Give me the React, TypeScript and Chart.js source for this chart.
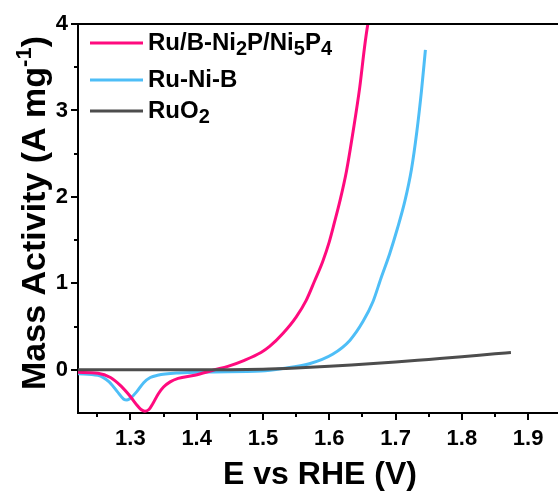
import React, { useEffect, useRef } from 'react';
import { Chart, registerables } from 'chart.js';

Chart.register(...registerables);

// ---- data ----
const ruBX = [1.221, 1.251, 1.27, 1.286, 1.30, 1.31, 1.316, 1.322, 1.328, 1.334, 1.342, 1.35, 1.36, 1.372, 1.397, 1.427, 1.447, 1.472, 1.497, 1.51, 1.53, 1.55, 1.565, 1.578, 1.59, 1.60, 1.608, 1.616, 1.626, 1.636, 1.646, 1.653, 1.658, 1.662];
const ruBY = [-0.03, -0.04, -0.09, -0.19, -0.31, -0.41, -0.46, -0.48, -0.46, -0.39, -0.28, -0.2, -0.14, -0.1, -0.064, 0, 0.04, 0.11, 0.2, 0.27, 0.42, 0.61, 0.8, 1.03, 1.25, 1.48, 1.71, 1.95, 2.3, 2.76, 3.27, 3.72, 3.99, 4.15];

const ruNiBX = [1.221, 1.251, 1.268, 1.28, 1.29, 1.295, 1.30, 1.31, 1.32, 1.33, 1.341, 1.372, 1.421, 1.497, 1.53, 1.57, 1.605, 1.631, 1.651, 1.666, 1.678, 1.691, 1.703, 1.714, 1.724, 1.732, 1.739, 1.745];
const ruNiBY = [-0.045, -0.064, -0.14, -0.25, -0.34, -0.35, -0.33, -0.25, -0.15, -0.09, -0.064, -0.037, -0.025, -0.015, 0.014, 0.07, 0.18, 0.34, 0.56, 0.79, 1.06, 1.34, 1.64, 1.95, 2.32, 2.75, 3.22, 3.7];

const ruO2X = [1.221, 1.35, 1.45, 1.5, 1.55, 1.6, 1.65, 1.7, 1.75, 1.8, 1.85, 1.874];
const ruO2Y = [0, 0, 0, 0.005, 0.02, 0.04, 0.065, 0.09, 0.12, 0.15, 0.185, 0.2];

const xMinorTicks = [1.25, 1.35, 1.45, 1.55, 1.65, 1.75, 1.85];
const yMinorTicks = [0.5, 1.5, 2.5, 3.5];

const PINK = '#FF0A7E';
const BLUE = '#4EBEF7';
const GRAY = '#4D4D4D';
const FONT = '"Liberation Sans", Arial, sans-serif';

const toPoints = (xs: number[], ys: number[]) => xs.map((x, i) => ({ x, y: ys[i] }));

type Seg = { t: string; kind?: 'sub' | 'sup' };

function drawRich(ctx: CanvasRenderingContext2D, segs: Seg[], x: number, y: number, size: number, subSize: number, measureOnly = false) {
  let cx = x;
  for (const s of segs) {
    const fs = s.kind ? subSize : size;
    ctx.font = `bold ${fs}px ${FONT}`;
    const dy = s.kind === 'sub' ? size * 0.22 : s.kind === 'sup' ? -size * 0.4 : 0;
    if (!measureOnly) ctx.fillText(s.t, cx, y + dy);
    cx += ctx.measureText(s.t).width;
  }
  return cx - x;
}

const legendItems: { color: string; segs: Seg[]; y: number }[] = [
  { color: PINK, segs: [{ t: 'Ru/B-Ni' }, { t: '2', kind: 'sub' }, { t: 'P/Ni' }, { t: '5', kind: 'sub' }, { t: 'P' }, { t: '4', kind: 'sub' }], y: 43 },
  { color: BLUE, segs: [{ t: 'Ru-Ni-B' }], y: 80 },
  { color: GRAY, segs: [{ t: 'RuO' }, { t: '2', kind: 'sub' }], y: 111 },
];

const decorPlugin = {
  id: 'decor',
  afterDraw(chart: any) {
    const { ctx, chartArea: a, scales } = chart;
    const xs = scales.x;
    const ys = scales.y;
    ctx.save();
    ctx.strokeStyle = '#000';
    ctx.lineWidth = 2;
    ctx.beginPath();
    ctx.moveTo(a.left - 1, a.top);
    ctx.lineTo(a.right, a.top);
    for (const v of xMinorTicks) {
      const px = Math.round(xs.getPixelForValue(v));
      ctx.moveTo(px, a.bottom);
      ctx.lineTo(px, a.bottom + 4);
    }
    for (const v of yMinorTicks) {
      const py = Math.round(ys.getPixelForValue(v));
      ctx.moveTo(a.left, py);
      ctx.lineTo(a.left - 4, py);
    }
    ctx.stroke();

    ctx.fillStyle = '#000';
    ctx.textBaseline = 'alphabetic';
    ctx.font = `bold 32px ${FONT}`;
    ctx.textAlign = 'center';
    ctx.fillText('E vs RHE (V)', (a.left + a.right) / 2 + 2, 484);

    ctx.textAlign = 'left';
    const ySegs: Seg[] = [{ t: 'Mass Activity (A mg' }, { t: '-1', kind: 'sup' }, { t: ')' }];
    const w = drawRich(ctx, ySegs, 0, 0, 34, 22, true);
    ctx.save();
    ctx.translate(45, 213);
    ctx.rotate(-Math.PI / 2);
    drawRich(ctx, ySegs, -w / 2, 0, 34, 22);
    ctx.restore();

    for (const it of legendItems) {
      ctx.strokeStyle = it.color;
      ctx.lineWidth = 3;
      ctx.beginPath();
      ctx.moveTo(90, it.y);
      ctx.lineTo(143, it.y);
      ctx.stroke();
      ctx.fillStyle = '#000';
      drawRich(ctx, it.segs, 148, it.y + 7, 24, 20);
    }
    ctx.restore();
  },
};

export default function App() {
  const ref = useRef<HTMLCanvasElement | null>(null);
  useEffect(() => {
    if (!ref.current) return;
    const tickFont = { family: FONT, size: 22, weight: 'bold' as const };
    const line = { borderWidth: 3, pointRadius: 0, cubicInterpolationMode: 'monotone' as const };
    const chart = new Chart(ref.current, {
      type: 'line',
      data: {
        datasets: [
          { label: 'RuO2', data: toPoints(ruO2X, ruO2Y), borderColor: GRAY, ...line },
          { label: 'Ru/B-Ni2P/Ni5P4', data: toPoints(ruBX, ruBY), borderColor: PINK, ...line },
          { label: 'Ru-Ni-B', data: toPoints(ruNiBX, ruNiBY), borderColor: BLUE, ...line },
        ],
      },
      options: {
        animation: false,
        responsive: false,
        devicePixelRatio: 1,
        layout: { padding: { top: 24, right: 0, left: 0, bottom: 0 } },
        plugins: { legend: { display: false }, tooltip: { enabled: false } },
        scales: {
          x: {
            type: 'linear',
            min: 1.221,
            max: 1.945,
            border: { display: true, color: '#000', width: 2 },
            grid: { drawOnChartArea: false, drawTicks: true, tickLength: 7, color: '#000', lineWidth: 2 },
            ticks: {
              stepSize: 0.1,
              includeBounds: false,
              color: '#000',
              font: tickFont,
              padding: 6,
              maxRotation: 0,
              callback: (v: any) => Number(v).toFixed(1),
            },
            afterFit: (s: any) => {
              s.height = 80;
              s.paddingLeft = 0;
              s.paddingRight = 0;
            },
          },
          y: {
            type: 'linear',
            min: -0.5,
            max: 4,
            border: { display: true, color: '#000', width: 2 },
            grid: { drawOnChartArea: false, drawTicks: true, tickLength: 7, color: '#000', lineWidth: 2 },
            ticks: {
              stepSize: 1,
              includeBounds: false,
              color: '#000',
              font: tickFont,
              padding: 3,
              callback: (v: any) => String(Math.round(Number(v))),
            },
            afterFit: (s: any) => {
              s.width = 78;
              s.paddingTop = 0;
              s.paddingBottom = 0;
            },
          },
        },
      },
      plugins: [decorPlugin],
    });
    return () => chart.destroy();
  }, []);
  return (
    <div style={{ position: 'fixed', left: 0, top: 0, width: 558, height: 493, background: '#fff' }}>
      <canvas ref={ref} width={558} height={493} style={{ display: 'block' }} />
    </div>
  );
}
